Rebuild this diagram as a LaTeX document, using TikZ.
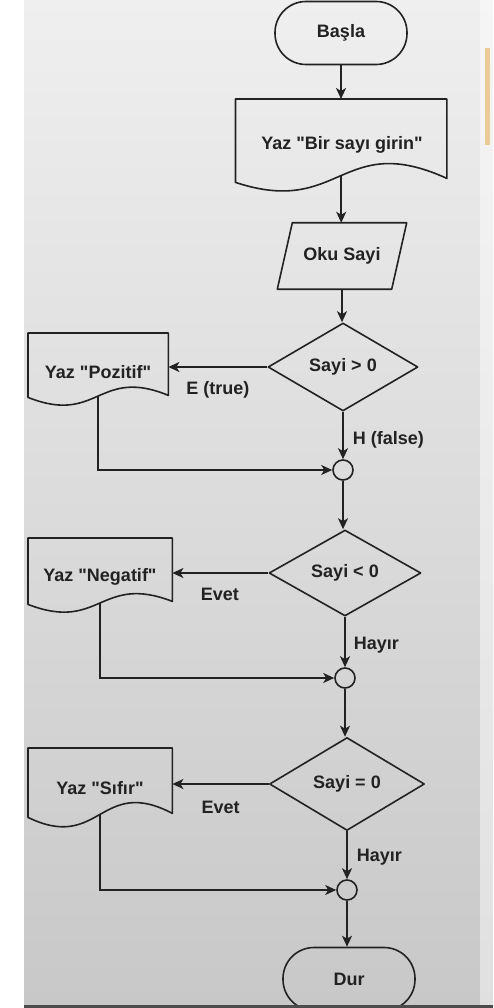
\documentclass[tikz,border=0pt]{standalone}
\usepackage{fontspec}
% a family of its own, so straight double quotes stay straight
\newfontfamily\chartfont{Liberation Sans}
\usetikzlibrary{shapes.geometric,arrows.meta,calc}

% Document symbol: straight top and sides, wavy bottom edge.
% #1 node, #2 trough depth, #3 crest height, #4 rise of the right corner
\newcommand{\docoutline}[4]{%
  \draw[outline] (#1.south west) -- (#1.north west) -- (#1.north east)
    -- ($(#1.south east)+(0,-#4)$)
    .. controls ($(#1.south)+(0,-#3)$) and ($(#1.south)+(0,#2)$) .. (#1.south west) -- cycle;
  \coordinate (#1-out) at ($(#1.south)+(0,{0.375*(#2-#3)-0.125*#4})$);
}

\definecolor{ink}{HTML}{222222}
\definecolor{papertop}{HTML}{EFEFEF}
\definecolor{papermid}{HTML}{E3E3E3}
\definecolor{paperbot}{HTML}{C8C8C8}
\definecolor{tab}{RGB}{236,204,150}

\begin{document}
\begin{tikzpicture}[x=1pt,y=-1pt,
  every node/.style={font=\chartfont\bfseries\fontsize{18}{21}\selectfont, text=ink},
  outline/.style={draw=ink, line width=1.6pt, line join=round},
  terminal/.style={outline, rectangle, rounded corners=31pt, minimum width=132pt, minimum height=63pt, inner sep=0pt},
  docbox/.style={rectangle, inner sep=0pt, anchor=north west},
  iobox/.style={rectangle, inner sep=0pt, minimum width=114pt, minimum height=66pt},
  decision/.style={outline, diamond, inner sep=0pt},
  junction/.style={outline, circle, minimum size=20pt, inner sep=0pt},
  lbl/.style={inner sep=1pt, text height=13pt, text depth=4pt},
  wire/.style={draw=ink, line width=1.6pt},
  arr/.style={wire, -{Stealth[length=11pt,width=10pt,inset=3pt]}},
]
\useasboundingbox (0,0) rectangle (493,1008);

% page background
\fill[white] (0,0) rectangle (493,1008);
\shade[top color=papertop, middle color=papermid, bottom color=paperbot] (24,0) rectangle (493,1005);
\fill[white, opacity=0.45] (480,0) rectangle (493,1005);
\fill[tab] (485,48) rectangle (490,145);

% flowchart nodes
\node[terminal] (start) at (341,33) {Başla};

\node[docbox, minimum width=211pt, minimum height=83pt] (ask) at (235.5,99) {};
\node (asktxt) at (342,145) {Yaz "Bir sayı girin"};
\docoutline{ask}{35}{52}{4}

\node[iobox] (read) at (342,256) {Oku Sayi};
\draw[outline] ($(read.north west)+(7.5,0)$) -- ($(read.north east)+(7.5,0)$)
  -- ($(read.south east)+(-7.5,0)$) -- ($(read.south west)+(-7.5,0)$) -- cycle;

\node[decision, minimum width=150pt, minimum height=88pt] (pos) at (343,367) {Sayi > 0};
\node[docbox, minimum width=140pt, minimum height=64pt] (wpos) at (28,333) {};
\node (wpostxt) at (98,372) {Yaz "Pozitif"};
\docoutline{wpos}{28}{31}{2}
\node[junction] (j1) at (343,470) {};

\node[decision, minimum width=152pt, minimum height=86pt] (neg) at (345,573) {Sayi < 0};
\node[docbox, minimum width=144pt, minimum height=66pt] (wneg) at (28,538) {};
\node (wnegtxt) at (100,577) {Yaz "Negatif"};
\docoutline{wneg}{28}{31}{3}
\node[junction] (j2) at (345,678) {};

\node[decision, minimum width=155pt, minimum height=93pt] (zero) at (347,784) {Sayi = 0};
\node[docbox, minimum width=144pt, minimum height=69pt] (wzero) at (28,748) {};
\node (wzerotxt) at (100,788) {Yaz "Sıfır"};
\docoutline{wzero}{35}{42}{4}
\node[junction] (j3) at (347,890) {};

\node[terminal] (stop) at (349,979) {Dur};

% connectors
\draw[arr] (start.south) -- (start.south |- ask.north);
\draw[arr] (ask-out) -- (ask-out |- read.north);
\draw[arr] (read.south) -- (read.south |- pos.north);

\draw[arr] (pos.west) -- node[lbl, anchor=base, pos=0.5, yshift=-27pt] {E (true)} (pos.west -| wpos.east);
\draw[arr] (pos.south) -- node[lbl, anchor=base west, pos=0.68, xshift=8pt] {H (false)} (j1.north);
\draw[arr] (wpos-out) |- (j1.west);
\draw[arr] (j1.south) -- (j1.south |- neg.north);

\draw[arr] (neg.west) -- node[lbl, anchor=base, pos=0.505, yshift=-27pt] {Evet} (neg.west -| wneg.east);
\draw[arr] (neg.south) -- node[lbl, anchor=base west, pos=0.654, xshift=7pt] {Hayır} (j2.north);
\draw[arr] (wneg-out) |- (j2.west);
\draw[arr] (j2.south) -- (j2.south |- zero.north);

\draw[arr] (zero.west) -- node[lbl, anchor=base, pos=0.5, yshift=-29pt] {Evet} (zero.west -| wzero.east);
\draw[arr] (zero.south) -- node[lbl, anchor=base west, pos=0.636, xshift=8pt] {Hayır} (j3.north);
\draw[arr] (wzero-out) |- (j3.west);
\draw[arr] (j3.south) -- (j3.south |- stop.north);

% the page edge cuts off the bottom of the end symbol
\fill[black!70] (24,1005) rectangle (493,1008);
\end{tikzpicture}
\end{document}
